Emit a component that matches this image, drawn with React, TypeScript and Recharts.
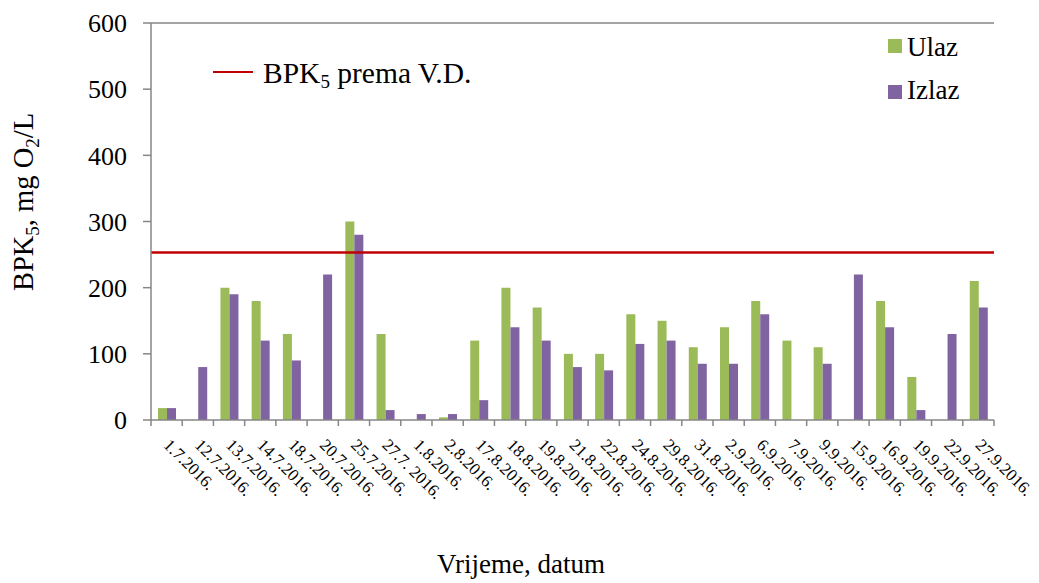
import { BarChart, Bar, XAxis, YAxis, ReferenceLine, Legend } from "recharts";

const datumi = [
  "1.7.2016.", "12.7.2016.", "13.7.2016.", "14.7.2016.", "18.7.2016.", "20.7.2016.",
  "25.7.2016.", "27.7. 2016.", "1.8.2016.", "2.8.2016.", "17.8.2016.", "18.8.2016.",
  "19.8.2016.", "21.8.2016.", "22.8.2016.", "24.8.2016.", "29.8.2016.", "31.8.2016.",
  "2.9.2016.", "6.9.2016.", "7.9.2016.", "9.9.2016.", "15.9.2016.", "16.9.2016.",
  "19.9.2016.", "22.9.2016.", "27.9.2016.",
];

const ulaz = [18, 0, 200, 180, 130, 0, 300, 130, 0, 4, 120, 200, 170, 100, 100, 160, 150, 110, 140, 180, 120, 110, 0, 180, 65, 0, 210];
const izlaz = [18, 80, 190, 120, 90, 220, 280, 15, 9, 9, 30, 140, 120, 80, 75, 115, 120, 85, 85, 160, 0, 85, 220, 140, 15, 130, 170];

const bpkLimit = 253;
const yTicks = [0, 100, 200, 300, 400, 500, 600];

const chartData = datumi.map((datum, i) => ({ datum, ulaz: ulaz[i], izlaz: izlaz[i] }));

const FONT = "'Liberation Serif', 'Times New Roman', serif";
const AXIS = "#868686";
const GREEN = "#9BBB59";
const PURPLE = "#8064A2";
const RED = "#C00000";

const WIDTH = 1039;
const HEIGHT = 583;
const PLOT_LEFT = 151;
const PLOT_RIGHT = 994;
const halfBand = (PLOT_RIGHT - PLOT_LEFT) / datumi.length / 2;

const DateTick = (props: any) => {
  const { x, y, payload, index } = props;
  const axisY = y - 8;
  const last = index === datumi.length - 1;
  const tx = x - 4;
  const ty = axisY + 26;
  return (
    <g>
      <line x1={x - halfBand} y1={axisY} x2={x - halfBand} y2={axisY + 6} stroke={AXIS} strokeWidth={1.5} />
      {last && <line x1={x + halfBand} y1={axisY} x2={x + halfBand} y2={axisY + 6} stroke={AXIS} strokeWidth={1.5} />}
      <text
        x={tx}
        y={ty}
        transform={`rotate(45, ${tx}, ${ty})`}
        textAnchor="start"
        fontFamily={FONT}
        fontSize={17}
        fill="#000"
      >
        {payload.value}
      </text>
    </g>
  );
};

const YTitle = () => (
  <text transform="translate(33, 202) rotate(-90)" textAnchor="middle" fontFamily={FONT} fontSize={28.5} fill="#000">
    BPK<tspan fontSize={19} dy={6}>5</tspan>
    <tspan dy={-6}>, mg O</tspan>
    <tspan fontSize={19} dy={6}>2</tspan>
    <tspan dy={-6}>/L</tspan>
  </text>
);

const XTitle = () => (
  <text x={521} y={573} textAnchor="middle" fontFamily={FONT} fontSize={27} fill="#000">
    Vrijeme, datum
  </text>
);

const renderLegend = () => (
  <div style={{ position: "relative", width: 0, height: 0, fontFamily: FONT, color: "#000" }}>
    <div style={{ position: "absolute", left: 213, top: 71, width: 40, height: 2, background: RED }} />
    <div style={{ position: "absolute", left: 263, top: 55, fontSize: 29.5, lineHeight: "36px", whiteSpace: "nowrap", fontFamily: FONT }}>
      BPK<sub style={{ fontSize: 19, verticalAlign: "-5px", lineHeight: 0 }}>5</sub> prema V.D.
    </div>
    <div style={{ position: "absolute", left: 888, top: 39, width: 14, height: 14, background: GREEN }} />
    <div style={{ position: "absolute", left: 907, top: 32, fontSize: 27, lineHeight: "30px", whiteSpace: "nowrap", fontFamily: FONT }}>Ulaz</div>
    <div style={{ position: "absolute", left: 888, top: 85, width: 14, height: 14, background: PURPLE }} />
    <div style={{ position: "absolute", left: 907, top: 75, fontSize: 27, lineHeight: "30px", whiteSpace: "nowrap", fontFamily: FONT }}>Izlaz</div>
  </div>
);

export default function App() {
  return (
    <div style={{ position: "absolute", left: 0, top: 0, width: WIDTH, height: HEIGHT, background: "#fff" }}>
      <BarChart
        width={WIDTH}
        height={HEIGHT}
        data={chartData}
        margin={{ top: 23, right: WIDTH - PLOT_RIGHT, left: 0, bottom: 0 }}
        barGap={0}
        barSize={9}
      >
        <XAxis
          dataKey="datum"
          height={163}
          interval={0}
          tickLine={false}
          tickSize={6}
          tick={<DateTick />}
          axisLine={{ stroke: AXIS, strokeWidth: 1.5 }}
          label={<XTitle />}
        />
        <YAxis
          width={PLOT_LEFT}
          domain={[0, 600]}
          ticks={yTicks}
          interval={0}
          tickSize={8}
          tickMargin={16}
          tick={{ fontFamily: FONT, fontSize: 26, fill: "#000" }}
          tickLine={{ stroke: AXIS, strokeWidth: 1.5 }}
          axisLine={{ stroke: AXIS, strokeWidth: 1.5 }}
          label={<YTitle />}
        />
        <YAxis
          yAxisId="frame"
          orientation="right"
          width={0}
          domain={[0, 600]}
          tick={false}
          tickLine={false}
          axisLine={{ stroke: AXIS, strokeWidth: 1.5 }}
        />
        <ReferenceLine y={600} stroke={AXIS} strokeWidth={1.5} />
        <Bar dataKey="ulaz" name="Ulaz" fill={GREEN} isAnimationActive={false} />
        <Bar dataKey="izlaz" name="Izlaz" fill={PURPLE} isAnimationActive={false} />
        <ReferenceLine y={bpkLimit} stroke={RED} strokeWidth={2.5} />
        <Legend
          layout="horizontal"
          verticalAlign="middle"
          align="center"
          content={renderLegend}
          wrapperStyle={{ left: 0, top: 0, width: 0, height: 0 }}
        />
      </BarChart>
    </div>
  );
}
